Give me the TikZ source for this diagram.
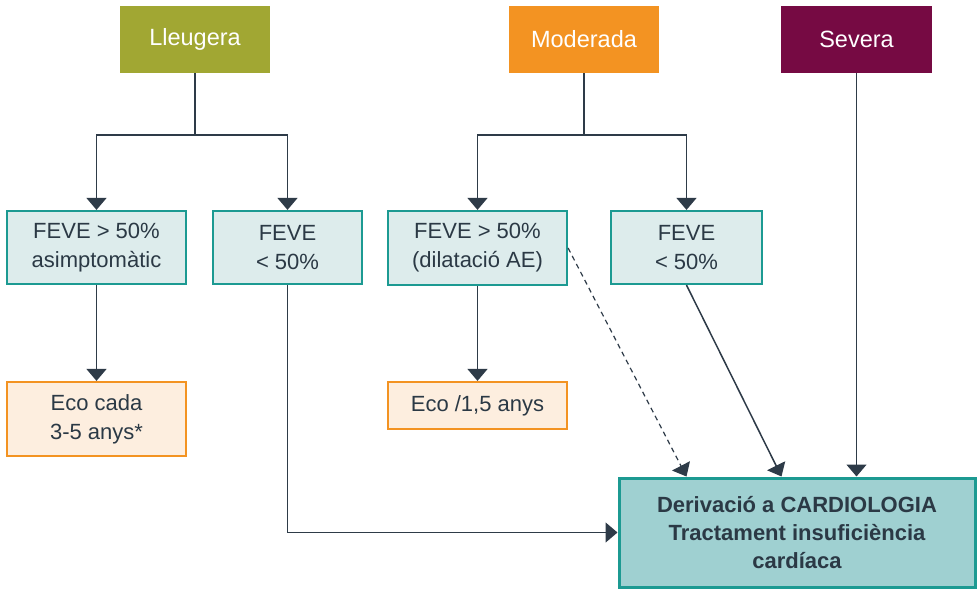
\documentclass[tikz,border=0pt]{standalone}
\usepackage{fontspec}
\setmainfont{Liberation Sans}
\usetikzlibrary{arrows.meta}
\definecolor{txt}{HTML}{2B3945}
\definecolor{teal}{HTML}{1C9A92}
\definecolor{lightteal}{HTML}{DDECEC}
\definecolor{orng}{HTML}{F39322}
\definecolor{lightorng}{HTML}{FDEEDF}
\definecolor{derfill}{HTML}{9FD0D1}
\definecolor{olive}{HTML}{A1A733}
\definecolor{magenta}{HTML}{760A43}
\definecolor{linec}{HTML}{2E3B48}
\tikzset{
  base/.style={inner sep=0pt, align=center, font={\fontsize{22}{29}\selectfont}},
  head/.style={base, text=white, minimum width=150pt, minimum height=67pt, font={\fontsize{23.5}{29}\selectfont}},
  fevebox/.style={base, text=txt, draw=teal, fill=lightteal, line width=2.2pt},
  ecobox/.style={base, text=txt, draw=orng, fill=lightorng, line width=2.2pt},
  derbox/.style={base, text=txt, draw=teal, fill=derfill, line width=3pt, font={\fontsize{22}{28}\selectfont\bfseries}},
  arr/.style={draw=linec, line width=1.5pt, -{Triangle[width=20pt,length=12pt]}},
}
\begin{document}
\begin{tikzpicture}[x=1pt,y=-1pt]
\useasboundingbox (0,0) rectangle (979,589);
\node[head, fill=olive] (L) at (195,39.5) {Lleugera};
\node[head, fill=orng] (M) at (584,39.5) {Moderada};
\node[head, fill=magenta, minimum width=151pt] (S) at (856.5,39.5) {Severa};
\node[fevebox, minimum width=179pt, minimum height=73pt] (b1) at (96.5,247.5) {FEVE > 50\%\\asimptomàtic};
\node[fevebox, minimum width=149pt, minimum height=73pt] (b2) at (287.5,247.5) {FEVE\\< 50\%};
\node[fevebox, minimum width=179pt, minimum height=74pt] (b3) at (477.5,248) {FEVE > 50\%\\(dilatació AE)};
\node[fevebox, minimum width=151pt, minimum height=73pt] (b4) at (686.5,247.5) {FEVE\\< 50\%};
\node[ecobox, minimum width=179pt, minimum height=74pt] (e1) at (96.5,419) {Eco cada\\3-5 anys*};
\node[ecobox, minimum width=179pt, minimum height=47pt] (e2) at (477.5,405.5) {Eco /1,5 anys};
\node[derbox, minimum width=356pt, minimum height=109pt] (d) at (797,532.5) {Derivació a CARDIOLOGIA\\Tractament insuficiència\\cardíaca};
% connectors
\draw[arr] (L.south) -- ++(0,62) -| (b1.north);
\draw[arr] (L.south) -- ++(0,62) -| (b2.north);
\draw[arr] (M.south) -- ++(0,62) -| (b3.north);
\draw[arr] (M.south) -- ++(0,62) -| (b4.north);
\draw[arr] (S.south) -- (S.south |- d.north);
\draw[arr] (b1.south) -- (e1.north);
\draw[arr] (b3.south) -- (e2.north);
\draw[arr] (b2.south) |- (d.west);
\draw[arr, dash pattern=on 5pt off 4pt, line width=1.2pt] (b3.east) -- ([xshift=69pt]d.north west);
\draw[arr] (b4.south) -- ([xshift=164pt]d.north west);
\end{tikzpicture}
\end{document}
